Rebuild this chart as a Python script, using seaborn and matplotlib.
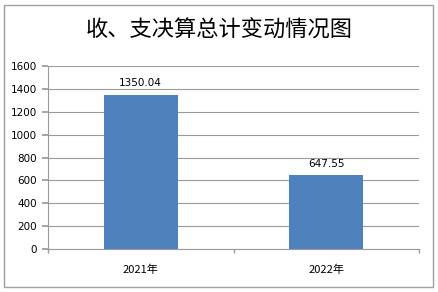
import matplotlib
matplotlib.use("Agg")
import matplotlib.pyplot as plt
import seaborn as sns
import pandas as pd
from matplotlib.patches import Rectangle

categories = ["2021年", "2022年"]
values = [1350.04, 647.55]
yticks = [0, 200, 400, 600, 800, 1000, 1200, 1400, 1600]
title = "收、支决算总计变动情况图"

sns.set_theme(style="white")
plt.rcParams['font.family'] = ['Noto Sans CJK SC', 'DejaVu Sans']
plt.rcParams['text.color'] = 'black'
plt.rcParams['xtick.color'] = 'black'
plt.rcParams['ytick.color'] = 'black'

df = pd.DataFrame({"year": categories, "value": values})

fig = plt.figure(figsize=(4.38, 2.92), dpi=100)
ax = fig.add_axes([48/438, 1-249/292, (419-48)/438, (249-66)/292])
sns.barplot(data=df, x="year", y="value", color="#4F81BD", width=0.4, saturation=1,
            edgecolor="none", linewidth=0, ax=ax)

ax.set_ylim(0, 1600)
ax.set_xlim(-0.5, 1.5)
ax.set_yticks(yticks)
ax.set_yticklabels([str(t) for t in yticks], fontsize=7.5, family='DejaVu Sans')
ax.yaxis.grid(True, color="#9a9a9a", linewidth=0.8)
ax.set_axisbelow(True)
ax.set_xlabel("")
ax.set_ylabel("")
for s in ["top", "right"]:
    ax.spines[s].set_visible(False)
for s in ["left", "bottom"]:
    ax.spines[s].set_color("#9a9a9a")
    ax.spines[s].set_linewidth(0.8)
ax.tick_params(axis="y", which="both", left=True, length=4, color="#9a9a9a", pad=4)
ax.tick_params(axis="x", bottom=False, labelsize=8, pad=5)
ax.set_xticks([-0.5, 0.5, 1.5], minor=True)
ax.tick_params(axis="x", which="minor", bottom=True, length=3, color="#9a9a9a", direction="out")

for i, v in enumerate(values):
    ax.text(i, v + 55, f"{v:.2f}", ha="center", va="bottom", fontsize=7.5, family='DejaVu Sans')

fig.text(0.5, 1-30/292, title, ha="center", va="center", fontsize=16, fontweight="medium")
fig.patches.append(Rectangle((4/438, 5/292), 429/438, 282/292, transform=fig.transFigure,
                             fill=False, edgecolor="#a0a0a0", linewidth=1))

fig.savefig("out.png", dpi=100)
